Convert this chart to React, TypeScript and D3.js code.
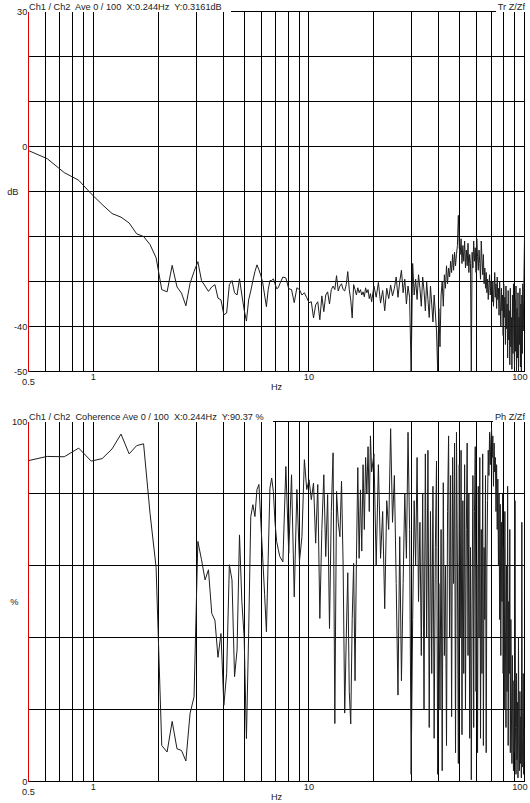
import * as d3 from 'd3';
import { useEffect, useRef } from 'react';

const WIDTH = 530;
const HEIGHT = 803;
const FONT = '"Liberation Sans", Arial, sans-serif';
const TEXT_COLOR = '#222';
const TRACE_COLOR = '#1e1e1e';

// analyser bin width in Hz; a value belongs to bin k at k * BIN_HZ
const BIN_HZ = 0.1221;
// kept bins: each one up to 60, every 2nd up to 160, every 4th up to 820
const LOW_BINS = { start: 4, step: 1 };
const MID_BINS = { start: 62, step: 2 };
const HIGH_BINS = { start: 164, step: 4 };

// Tr Z/Zf, dB
const transmissibilityLow = [
  -0.7, -2.7, -5.8, -7.5, -10.5, -12.9, -14.9, -15.7, -17.0, -19.4,
  -20.0, -21.8, -24.7, -31.8, -32.3, -26.4, -31.2, -32.6, -35.4, -30.4,
  -27.8, -25.6, -29.8, -31.0, -32.2, -31.2, -30.7, -33.7, -34.1, -37.4,
  -37.0, -30.7, -29.8, -32.5, -33.0, -29.4, -33.0, -36.3, -38.8, -34.1,
  -32.1, -29.8, -27.8, -26.3, -27.4, -28.7, -30.3, -33.0, -35.6, -31.8,
  -29.8, -29.8, -29.4, -30.5, -31.6, -31.4, -30.5,
];
const transmissibilityMid = [
  -29.0, -29.2, -31.6, -31.8, -34.7, -31.4, -31.8, -33.0, -32.5, -33.6,
  -34.7, -34.5, -38.1, -35.2, -34.5, -38.5, -33.2, -36.7, -33.0, -32.3,
  -35.0, -31.8, -31.0, -31.8, -28.7, -32.1, -31.0, -30.5, -31.8, -32.1,
  -30.7, -27.8, -31.8, -34.1, -38.1, -30.7, -31.8, -33.0, -31.4, -32.5,
  -31.8, -33.0, -32.3, -33.4, -31.4, -32.5, -31.8, -33.8, -32.7, -34.5,
];
const transmissibilityHigh = [
  -31.0, -33.5, -30.2, -34.8, -32.0, -36.5, -31.5, -33.8, -30.8, -33.2,
  -31.5, -29.0, -33.5, -30.0, -27.5, -32.5, -29.5, -35.0, -31.0, -33.5,
  -50.0, -26.0, -33.0, -29.5, -34.0, -28.5, -31.5, -35.5, -29.0, -32.0,
  -36.5, -30.0, -34.0, -38.0, -31.0, -35.0, -39.0, -33.0, -37.0, -41.0,
  -50.0, -36.0, -44.5, -33.0, -30.0, -35.5, -28.5, -31.5, -26.5, -30.5,
  -27.0, -29.0, -25.5, -28.0, -24.0, -27.5, -23.5, -26.5, -24.0, -22.0,
  -15.3, -22.5, -24.0, -20.5, -26.0, -22.0, -25.5, -21.0, -27.0, -23.0,
  -26.5, -21.5, -28.0, -24.0, -26.0, -50.0, -23.5, -27.0, -21.0, -25.5,
  -22.5, -28.0, -20.5, -24.5, -27.5, -23.0, -26.0, -29.5, -21.0, -25.0,
  -28.5, -24.0, -30.5, -27.0, -31.5, -28.0, -32.5, -29.5, -34.0, -31.0,
  -28.5, -33.0, -30.0, -31.0, -34.5, -30.0, -35.5, -32.0, -28.0, -33.5,
  -30.5, -36.0, -29.0, -34.0, -31.5, -37.5, -30.0, -35.0, -40.0, -31.5,
  -36.5, -33.0, -42.0, -30.5, -38.0, -33.5, -44.0, -31.0, -40.5, -35.0,
  -47.0, -32.0, -43.0, -36.5, -48.5, -31.5, -44.5, -38.0, -49.5, -33.0,
  -46.0, -30.5, -42.0, -49.0, -34.0, -45.5, -31.0, -50.0, -36.0, -47.0,
  -32.5, -50.0, -38.0, -44.0, -31.5, -49.0, -35.0, -50.0, -33.0, -46.0,
  -30.5, -41.0, -34.0, -26.0, -18.5,
];

// coherence, %
const coherenceLow = [
  89.0, 90.3, 90.2, 92.6, 89.0, 89.7, 92.4, 96.5, 91.0, 93.3,
  93.8, 74.5, 59.5, 10.0, 8.2, 16.7, 9.1, 8.6, 5.7, 18.9,
  23.5, 66.7, 61.6, 56.0, 58.8, 46.7, 44.8, 34.5, 41.1, 21.2,
  30.0, 60.2, 56.0, 29.1, 36.5, 68.5, 50.0, 40.0, 11.9, 41.0,
  73.6, 76.9, 73.6, 81.1, 82.5, 72.0, 62.0, 52.0, 41.6, 62.0,
  81.5, 84.3, 80.6, 72.0, 66.7, 64.5, 62.5,
];
const coherenceMid = [
  61.0, 87.5, 63.4, 85.2, 51.3, 81.1, 61.1, 68.0, 89.4, 81.1,
  83.8, 78.3, 82.9, 66.2, 82.5, 45.3, 70.0, 85.2, 62.5, 79.7,
  42.5, 75.0, 91.3, 16.1, 80.6, 72.0, 68.0, 83.4, 60.0, 19.0,
  40.0, 58.0, 25.0, 16.0, 45.0, 60.6, 28.0, 61.6, 87.2, 62.0,
  81.0, 64.0, 88.0, 70.0, 90.0, 80.0, 93.0, 75.0, 96.0, 86.0,
];
const coherenceHigh = [
  91, 60, 88, 62, 75, 48, 78, 70, 98, 72,
  85, 55, 24, 68, 28, 55, 80, 62, 97, 70,
  2, 45, 78, 60, 90, 50, 72, 35, 80, 20,
  91, 40, 92, 15, 75, 30, 82, 12, 65, 89,
  2, 55, 20, 70, 3, 83, 35, 60, 10, 75,
  96, 40, 85, 18, 90, 55, 94, 8, 97, 60,
  5, 88, 40, 92, 13, 78, 30, 88, 20, 70,
  94, 35, 80, 12, 65, 0.5, 50, 85, 15, 75,
  93, 25, 60, 8, 82, 40, 90, 12, 70, 30,
  91, 10, 65, 45, 85, 8, 60, 78, 92, 85,
  97, 88, 95, 98, 90, 96, 82, 94, 86, 90,
  75, 88, 70, 84, 60, 80, 45, 77, 35, 72,
  50, 80, 30, 65, 20, 75, 40, 15, 60, 25,
  82, 10, 50, 30, 70, 8, 45, 20, 5, 35,
  12, 3, 28, 8, 78, 15, 2, 30, 6, 22,
  1, 40, 10, 3, 25, 5, 18, 1, 72, 12,
  4, 30, 2, 15, 5,
];

const freqDomain = [0.5, 100];
const freqGrid = [0.6, 0.7, 0.8, 0.9, 1, 2, 3, 4, 5, 6, 7, 8, 9, 10, 20, 30, 40, 50, 60, 70, 80, 90, 100];
const freqTicks = [0.5, 1, 10, 100];
const freqTickLabels = ['0.5', '1', '10', '100'];

const dbDomain = [-50, 30];
const dbTicks = [30, 20, 10, 0, -10, -20, -30, -40, -50];
const dbTickLabels = ['30', '', '', '0', '', '', '', '-40', '-50'];
const dbUnit = { value: -10, label: 'dB' };

const coherenceDomain = [0, 100];
const coherenceTicks = [100, 80, 60, 40, 20, 0];
const coherenceTickLabels = ['100', '', '', '', '', '0'];
const coherenceUnit = { value: 50, label: '%' };

const transmissibilityTitle = 'Ch1 / Ch2  Ave 0 / 100  X:0.244Hz  Y:0.3161dB';
const transmissibilityTag = 'Tr Z/Zf';
const coherenceTitle = 'Ch1 / Ch2  Coherence Ave 0 / 100  X:0.244Hz  Y:90.37 %';
const coherenceTag = 'Ph Z/Zf';

type Point = { f: number; v: number };
type Bins = { start: number; step: number };

function binSeries(values: number[], bins: Bins): Point[] {
  return values.map((v, i) => ({ f: (bins.start + i * bins.step) * BIN_HZ, v }));
}

type Panel = {
  id: string;
  top: number;
  bottom: number;
  domain: number[];
  ticks: number[];
  tickLabels: string[];
  unit: { value: number; label: string };
  series: Point[];
  title: string;
  tag: string;
};

function drawPanel(svg: any, x: any, panel: Panel) {
  const [left, right] = x.range();
  const y = d3.scaleLinear().domain(panel.domain).range([panel.bottom, panel.top]);
  const g = svg.append('g');

  g.append('clipPath')
    .attr('id', `clip-${panel.id}`)
    .append('rect')
    .attr('x', left)
    .attr('y', panel.top)
    .attr('width', right - left)
    .attr('height', panel.bottom - panel.top);

  const grid = g.append('g')
    .attr('stroke', '#000')
    .attr('stroke-width', 1)
    .attr('shape-rendering', 'crispEdges');

  grid.selectAll('line.h')
    .data(panel.ticks.filter((t) => t !== panel.domain[1]))
    .join('line')
    .attr('class', 'h')
    .attr('x1', left)
    .attr('x2', right)
    .attr('y1', (d: number) => y(d))
    .attr('y2', (d: number) => y(d));

  grid.selectAll('line.v')
    .data(freqGrid)
    .join('line')
    .attr('class', 'v')
    .attr('x1', (d: number) => x(d))
    .attr('x2', (d: number) => x(d))
    .attr('y1', panel.top)
    .attr('y2', panel.bottom);

  const line = d3.line<Point>()
    .x((d) => x(d.f))
    .y((d) => y(d.v));

  g.append('path')
    .datum(panel.series)
    .attr('clip-path', `url(#clip-${panel.id})`)
    .attr('fill', 'none')
    .attr('stroke', TRACE_COLOR)
    .attr('stroke-width', 1)
    .attr('stroke-linejoin', 'round')
    .attr('d', line);

  g.append('line')
    .attr('x1', left)
    .attr('x2', left)
    .attr('y1', panel.top)
    .attr('y2', panel.bottom)
    .attr('stroke', '#e00000')
    .attr('stroke-width', 1)
    .attr('shape-rendering', 'crispEdges');

  const text = g.append('g')
    .style('font-family', FONT)
    .style('font-size', '9.2px')
    .attr('fill', TEXT_COLOR);

  const title = text.append('text')
    .attr('x', left + 0.5)
    .attr('y', panel.top - 2)
    .style('white-space', 'pre')
    .text(panel.title);
  const tag = text.append('text')
    .attr('x', right + 0.5)
    .attr('y', panel.top - 2)
    .attr('text-anchor', 'end')
    .style('white-space', 'pre')
    .text(panel.tag);

  const titleEnd = left + 0.5 + (title.node() as SVGTextElement).getComputedTextLength() + 9;
  const tagStart = right + 0.5 - (tag.node() as SVGTextElement).getComputedTextLength() - 2;

  grid.append('line')
    .attr('x1', titleEnd)
    .attr('x2', tagStart)
    .attr('y1', panel.top)
    .attr('y2', panel.top);

  text.selectAll('text.ytick')
    .data(panel.ticks.map((t, i) => ({ t, label: panel.tickLabels[i] })).filter((d) => d.label))
    .join('text')
    .attr('class', 'ytick')
    .attr('x', left - 1.2)
    .attr('y', (d: any) => y(d.t) + 3.3)
    .attr('text-anchor', 'end')
    .text((d: any) => d.label);

  text.append('text')
    .attr('x', 18.5)
    .attr('y', y(panel.unit.value) + 3.3)
    .attr('text-anchor', 'end')
    .text(panel.unit.label);

  text.selectAll('text.xtick')
    .data(freqTicks.map((f, i) => ({ f, label: freqTickLabels[i] })))
    .join('text')
    .attr('class', 'xtick')
    .attr('x', (d: any) => (d.f === freqDomain[1] ? x(d.f) + 3 : x(d.f)))
    .attr('y', (d: any) => panel.bottom + (d.f === freqDomain[0] ? 13.5 : 8.5))
    .attr('text-anchor', (d: any) => (d.f === freqDomain[1] ? 'end' : 'middle'))
    .text((d: any) => d.label);

  text.append('text')
    .attr('x', 276.5)
    .attr('y', panel.bottom + 18.5)
    .attr('text-anchor', 'middle')
    .text('Hz');
}

export default function App() {
  const ref = useRef<SVGSVGElement | null>(null);

  useEffect(() => {
    const svg = d3.select(ref.current);
    svg.selectAll('*').remove();

    const x = d3.scaleLog().domain(freqDomain).range([28.5, 524.5]);

    svg.append('rect')
      .attr('width', WIDTH)
      .attr('height', HEIGHT)
      .attr('fill', '#fff');

    drawPanel(svg, x, {
      id: 'tr',
      top: 11.5,
      bottom: 371.5,
      domain: dbDomain,
      ticks: dbTicks,
      tickLabels: dbTickLabels,
      unit: dbUnit,
      series: [
        ...binSeries(transmissibilityLow, LOW_BINS),
        ...binSeries(transmissibilityMid, MID_BINS),
        ...binSeries(transmissibilityHigh, HIGH_BINS),
      ],
      title: transmissibilityTitle,
      tag: transmissibilityTag,
    });

    drawPanel(svg, x, {
      id: 'coh',
      top: 421.5,
      bottom: 781.5,
      domain: coherenceDomain,
      ticks: coherenceTicks,
      tickLabels: coherenceTickLabels,
      unit: coherenceUnit,
      series: [
        ...binSeries(coherenceLow, LOW_BINS),
        ...binSeries(coherenceMid, MID_BINS),
        ...binSeries(coherenceHigh, HIGH_BINS),
      ],
      title: coherenceTitle,
      tag: coherenceTag,
    });

    return () => {
      svg.selectAll('*').remove();
    };
  }, []);

  return (
    <svg
      ref={ref}
      width={WIDTH}
      height={HEIGHT}
      style={{ position: 'absolute', left: 0, top: 0, display: 'block' }}
      role="img"
      aria-label="Transmissibility and coherence spectra"
    />
  );
}
